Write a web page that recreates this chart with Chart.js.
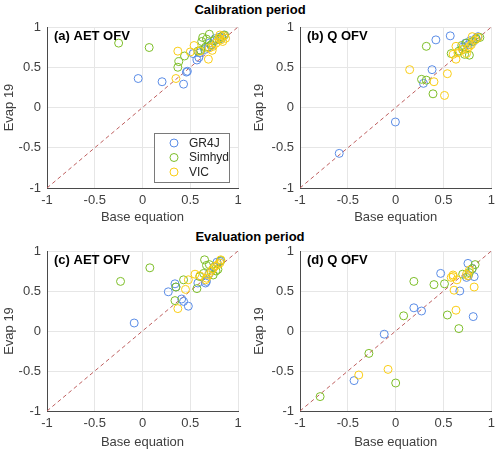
<!DOCTYPE html>
<html><head><meta charset="utf-8">
<script src="https://cdn.jsdelivr.net/npm/chart.js@4"></script>
<style>
html,body{margin:0;padding:0;background:#fff;}
#wrap{position:relative;width:500px;height:455px;overflow:hidden;font-family:"Liberation Sans",Arial,sans-serif;}
canvas{position:absolute;}
.ttl{position:absolute;left:0;width:500px;text-align:center;font-weight:bold;font-size:13px;color:#000;}
</style></head>
<body><div id="wrap">
<div class="ttl" style="top:2px">Calibration period</div>
<div class="ttl" style="top:229px">Evaluation period</div>
<div style="position:absolute;left:0;top:0;width:250px;height:225px"><canvas id="ca"></canvas></div>
<div style="position:absolute;left:250px;top:0;width:250px;height:225px"><canvas id="cb"></canvas></div>
<div style="position:absolute;left:0;top:225px;width:250px;height:225px"><canvas id="cc"></canvas></div>
<div style="position:absolute;left:250px;top:225px;width:250px;height:225px"><canvas id="cd"></canvas></div>
</div>
<script>
const models = ["GR4J", "Simhyd", "VIC"];
const modelColors = ["rgb(90,140,230)", "rgb(125,190,40)", "rgb(250,205,20)"];
const axisTicks = [-1, -0.5, 0, 0.5, 1];
const axisTickLabels = ["-1", "-0.5", "0", "0.5", "1"];
const oneToOne = [[-1, -1], [1, 1]];

// (a) Calibration, AET OFV
const calAET_GR4J = [[-0.045,0.36],[0.205,0.32],[0.43,0.29],[0.46,0.44],[0.47,0.45],[0.53,0.67],[0.57,0.59],[0.59,0.62],[0.60,0.68],[0.65,0.72],[0.69,0.75],[0.72,0.77],[0.70,0.80],[0.76,0.855],[0.81,0.875],[0.85,0.90],[0.78,0.84],[0.83,0.86]];
const calAET_Simhyd = [[-0.25,0.80],[0.07,0.745],[0.37,0.50],[0.38,0.57],[0.44,0.64],[0.58,0.70],[0.61,0.71],[0.62,0.82],[0.63,0.87],[0.70,0.91],[0.67,0.85],[0.72,0.78],[0.66,0.75],[0.75,0.83],[0.80,0.85],[0.86,0.90],[0.83,0.88]];
const calAET_VIC = [[0.35,0.36],[0.37,0.70],[0.50,0.69],[0.54,0.77],[0.60,0.70],[0.69,0.60],[0.73,0.71],[0.74,0.76],[0.70,0.74],[0.80,0.86],[0.82,0.84],[0.84,0.82],[0.85,0.89],[0.87,0.86],[0.77,0.80],[0.81,0.90]];

// (b) Calibration, Q OFV
const calQ_GR4J = [[-0.59,-0.57],[-0.003,-0.18],[0.29,0.30],[0.38,0.47],[0.42,0.84],[0.57,0.89],[0.73,0.80],[0.78,0.83],[0.84,0.86],[0.86,0.88],[0.70,0.75],[0.76,0.78],[0.81,0.82]];
const calQ_Simhyd = [[0.32,0.76],[0.27,0.35],[0.32,0.34],[0.39,0.17],[0.58,0.67],[0.70,0.72],[0.77,0.65],[0.74,0.80],[0.88,0.87],[0.66,0.70],[0.72,0.66],[0.80,0.82],[0.84,0.85],[0.69,0.77]];
const calQ_VIC = [[0.146,0.47],[0.40,0.32],[0.51,0.15],[0.54,0.42],[0.63,0.60],[0.63,0.76],[0.65,0.68],[0.74,0.67],[0.80,0.88],[0.77,0.76],[0.70,0.72],[0.79,0.78],[0.83,0.84],[0.86,0.87],[0.60,0.66],[0.75,0.73]];

// (c) Evaluation, AET OFV
const evalAET_GR4J = [[-0.087,0.10],[0.27,0.49],[0.34,0.59],[0.41,0.40],[0.43,0.37],[0.48,0.31],[0.58,0.60],[0.66,0.60],[0.67,0.62],[0.70,0.72],[0.78,0.86],[0.81,0.87],[0.75,0.80],[0.35,0.55]];
const evalAET_Simhyd = [[-0.23,0.62],[0.077,0.79],[0.34,0.38],[0.35,0.55],[0.43,0.64],[0.57,0.53],[0.60,0.68],[0.65,0.89],[0.67,0.82],[0.70,0.83],[0.74,0.70],[0.77,0.75],[0.79,0.77],[0.64,0.72],[0.82,0.88]];
const evalAET_VIC = [[0.37,0.28],[0.45,0.52],[0.48,0.64],[0.55,0.71],[0.60,0.69],[0.67,0.66],[0.69,0.70],[0.74,0.78],[0.79,0.83],[0.81,0.85],[0.82,0.89],[0.72,0.75],[0.66,0.64],[0.76,0.81]];

// (d) Evaluation, Q OFV
const evalQ_GR4J = [[-0.435,-0.62],[-0.12,-0.04],[0.19,0.29],[0.27,0.25],[0.47,0.72],[0.67,0.50],[0.755,0.845],[0.76,0.69],[0.82,0.68],[0.81,0.18],[0.80,0.78],[0.74,0.67]];
const evalQ_Simhyd = [[-0.79,-0.82],[-0.28,-0.28],[0.083,0.19],[0.19,0.62],[0.40,0.58],[0.51,0.59],[0.54,0.20],[0.66,0.03],[0.0,-0.65],[0.70,0.71],[0.83,0.83],[0.80,0.78],[0.77,0.73]];
const evalQ_VIC = [[-0.386,-0.55],[-0.08,-0.48],[0.63,0.26],[0.61,0.51],[0.60,0.68],[0.58,0.67],[0.64,0.64],[0.82,0.55],[0.755,0.69],[0.77,0.76],[0.60,0.70],[0.74,0.71]];

const FONT = '"Liberation Sans", Arial, sans-serif';
const toPts = arr => arr.map(p => ({x: p[0], y: p[1]}));
const tickText = v => { const i = axisTicks.indexOf(v); return i >= 0 ? axisTickLabels[i] : String(v); };

const panelLabel = {
  id: 'panelLabel',
  afterDraw(chart, args, opts) {
    const {ctx, chartArea} = chart;
    ctx.save();
    ctx.font = 'bold 13px ' + FONT;
    ctx.fillStyle = '#000';
    ctx.textBaseline = 'middle';
    ctx.fillText(opts.text, chartArea.left + 7, chartArea.top + 9);
    ctx.restore();
  }
};

const boxLegend = {
  id: 'boxLegend',
  afterDraw(chart, args, opts) {
    if (!opts.show) return;
    const {ctx, chartArea} = chart;
    const x0 = chartArea.left + 107, y0 = chartArea.top + 106, w = 75, h = 49;
    ctx.save();
    ctx.fillStyle = '#fff';
    ctx.fillRect(x0, y0, w, h);
    ctx.strokeStyle = '#7a7a7a';
    ctx.lineWidth = 1;
    ctx.strokeRect(x0 + 0.5, y0 + 0.5, w, h);
    ctx.font = '12px ' + FONT;
    ctx.textBaseline = 'middle';
    chart.data.datasets.filter(d => d.isModel).forEach((d, i) => {
      const cy = y0 + 10 + i * 14.5;
      ctx.beginPath();
      ctx.arc(x0 + 20, cy, 4, 0, Math.PI * 2);
      ctx.strokeStyle = d.borderColor;
      ctx.stroke();
      ctx.fillStyle = '#262626';
      ctx.fillText(d.label, x0 + 35, cy + 0.5);
    });
    ctx.restore();
  }
};

function makeChart(id, label, series, leftW, rightPad, topPad, xH, showLegend) {
  const datasets = [{
    type: 'line', label: '1:1', data: toPts(oneToOne),
    borderColor: 'rgb(190,95,95)', borderWidth: 1, borderDash: [4, 3],
    pointRadius: 0, fill: false, order: 10, isModel: false
  }];
  series.forEach((s, i) => datasets.push({
    label: models[i], data: toPts(s), isModel: true,
    borderColor: modelColors[i], backgroundColor: 'rgba(0,0,0,0)',
    pointRadius: 4, pointBorderWidth: 1, pointHoverRadius: 4, order: 3 - i
  }));
  return new Chart(document.getElementById(id), {
    type: 'scatter',
    data: {datasets},
    plugins: [panelLabel, boxLegend],
    options: {
      responsive: true, maintainAspectRatio: false, animation: false,
      layout: {padding: {top: topPad, right: rightPad, left: 0, bottom: 0}},
      plugins: {
        legend: {display: false}, tooltip: {enabled: false},
        panelLabel: {text: label}, boxLegend: {show: showLegend}
      },
      scales: {
        x: {
          min: -1, max: 1,
          afterBuildTicks: s => { s.ticks = axisTicks.map(v => ({value: v})); },
          afterFit: s => { s.height = xH; },
          ticks: {color: '#404040', font: {family: FONT, size: 13}, padding: 5, maxRotation: 0, callback: tickText},
          grid: {color: '#e6e6e6', drawTicks: false},
          border: {color: '#4a4a4a'},
          title: {display: true, text: 'Base equation', color: '#404040', font: {family: FONT, size: 13}, padding: {top: 0, bottom: 0}}
        },
        y: {
          min: -1, max: 1,
          afterBuildTicks: s => { s.ticks = axisTicks.map(v => ({value: v})); },
          afterFit: s => { s.width = leftW; },
          ticks: {color: '#404040', font: {family: FONT, size: 13}, padding: 6, callback: tickText},
          grid: {color: '#e6e6e6', drawTicks: false},
          border: {color: '#4a4a4a'},
          title: {display: true, text: 'Evap 19', color: '#404040', font: {family: FONT, size: 13}, padding: {top: 2, bottom: 0}}
        }
      }
    }
  });
}

makeChart('ca', '(a) AET OFV', [calAET_GR4J, calAET_Simhyd, calAET_VIC], 47, 12, 27, 37, true);
makeChart('cb', '(b) Q OFV', [calQ_GR4J, calQ_Simhyd, calQ_VIC], 50, 8, 27, 37, false);
makeChart('cc', '(c) AET OFV', [evalAET_GR4J, evalAET_Simhyd, evalAET_VIC], 47, 12, 26, 39, false);
makeChart('cd', '(d) Q OFV', [evalQ_GR4J, evalQ_Simhyd, evalQ_VIC], 50, 8, 26, 39, false);
</script>
</body></html>
